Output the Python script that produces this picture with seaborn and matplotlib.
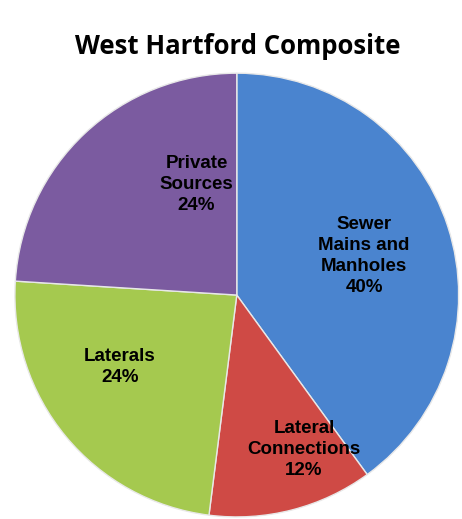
import numpy as np
import matplotlib
matplotlib.use("Agg")
import matplotlib.pyplot as plt
import seaborn as sns

# slice data, clockwise from the top
labels = ["Sewer\nMains and\nManholes", "Lateral\nConnections", "Laterals", "Private\nSources"]
shares = [40, 12, 24, 24]
colors = ["#4a84cf", "#cf4a45", "#a5c94f", "#7b5ba0"]

# where each label sits: (fraction of radius, angle in degrees)
label_pos = [(0.60, 17), (0.76, -66.5), (0.62, 211.7), (0.53, 110)]

sns.set_style("white")
plt.rcParams["font.family"] = ["Liberation Sans", "DejaVu Sans"]

fig = plt.figure(figsize=(4.62, 5.19), dpi=100)
ax = fig.add_axes([0.032, 0.004, 0.961, 0.855])

wedges, _ = ax.pie(shares, colors=colors, startangle=90, counterclock=False,
                   wedgeprops=dict(edgecolor="#e8e8e8", linewidth=1))
ax.set_xlim(-1, 1)
ax.set_ylim(-1, 1)
ax.set_aspect("equal")
ax.axis("off")

for lab, val, (r, a) in zip(labels, shares, label_pos):
    x = r * np.cos(np.radians(a))
    y = r * np.sin(np.radians(a))
    ax.text(x, y, f"{lab}\n{val}%", ha="center", va="center", color="black",
            fontsize=13.5, fontweight="bold", linespacing=1.3)

fig.text(0.515, 1 - 46 / 519, "West Hartford Composite", ha="center", va="center",
         fontsize=18.5, fontweight="bold", color="black",
         family=["Open Sans", "DejaVu Sans"])

fig.savefig("out.png", dpi=100)
